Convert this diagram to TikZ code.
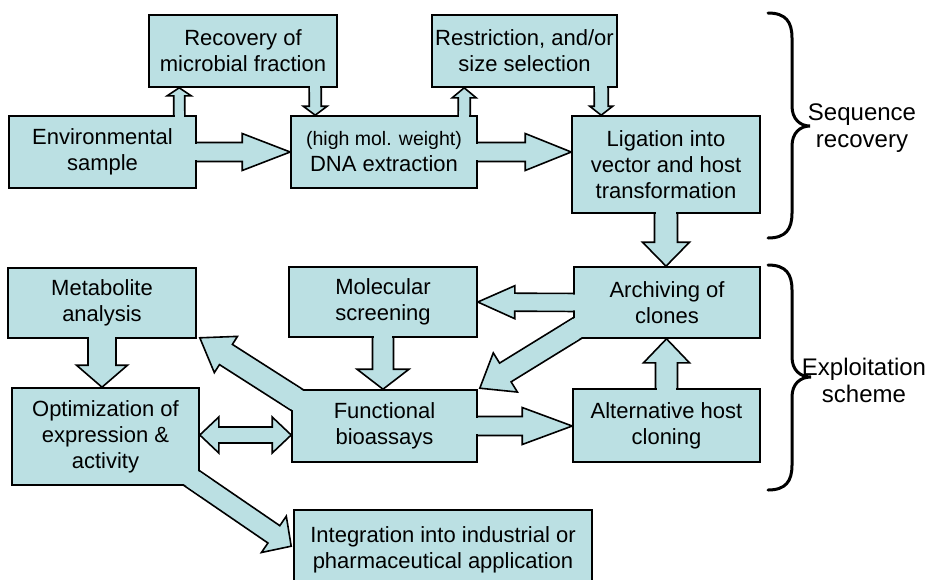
\documentclass[tikz,border=0pt]{standalone}
\usepackage{fontspec}
\setmainfont{Liberation Sans}
\usetikzlibrary{calc}
\pgfdeclarelayer{back}
\pgfdeclarelayer{front}
\pgfsetlayers{back,main,front}
\definecolor{boxfill}{RGB}{187,224,227}
\tikzset{
  box/.style 2 args={draw=black, line width=1.6pt, fill=boxfill, align=center,
    minimum width=#1pt, minimum height=#2pt, inner sep=0pt,
    font=\fontsize{22}{26}\selectfont},
  arrowbody/.style={draw=black, line width=1.6pt, fill=boxfill, line join=miter},
  bracestyle/.style={draw=black, line width=3pt, line cap=round},
  bracelabel/.style={align=center, font=\fontsize{24}{27}\selectfont}
}
% #1 start, #2 tip, #3 shaft half, #4 head half, #5 head length, #6 patch length
\newcommand\blockarrow[6]{%
  \path (#1) coordinate (ba-s) (#2) coordinate (ba-e);
  \path ($(ba-e)!#5pt!(ba-s)$) coordinate (ba-h);
  \path ($(ba-s)!#6pt!(ba-e)$) coordinate (ba-m);
  \pgfmathsetmacro\bapw{#3-1.1}%
  \begin{pgfonlayer}{back}
  \draw[arrowbody] ($(ba-s)!#3pt!90:(ba-e)$) -- ($(ba-h)!#3pt!90:(ba-e)$)
    -- ($(ba-h)!#4pt!90:(ba-e)$) -- (ba-e) -- ($(ba-h)!#4pt!-90:(ba-e)$)
    -- ($(ba-h)!#3pt!-90:(ba-e)$) -- ($(ba-s)!#3pt!-90:(ba-e)$) -- cycle;
  \end{pgfonlayer}
  \begin{pgfonlayer}{front}
  \fill[boxfill] ($(ba-s)!\bapw pt!90:(ba-e)$) -- ($(ba-m)!\bapw pt!90:(ba-e)$)
    -- ($(ba-m)!\bapw pt!-90:(ba-e)$) -- ($(ba-s)!\bapw pt!-90:(ba-e)$) -- cycle;
  \end{pgfonlayer}
}
% #1 left tip, #2 right tip, #3 shaft half, #4 head half, #5 head length
\newcommand\doublearrow[5]{%
  \path (#1) coordinate (da-l) (#2) coordinate (da-r);
  \path ($(da-l)!#5pt!(da-r)$) coordinate (da-hl) ($(da-r)!#5pt!(da-l)$) coordinate (da-hr);
  \draw[arrowbody] (da-l) -- ($(da-hl)!#4pt!90:(da-r)$) -- ($(da-hl)!#3pt!90:(da-r)$)
    -- ($(da-hr)!#3pt!-90:(da-l)$) -- ($(da-hr)!#4pt!-90:(da-l)$) -- (da-r)
    -- ($(da-hr)!#4pt!90:(da-l)$) -- ($(da-hr)!#3pt!90:(da-l)$)
    -- ($(da-hl)!#3pt!-90:(da-r)$) -- ($(da-hl)!#4pt!-90:(da-r)$) -- cycle;
}
\begin{document}
\begin{tikzpicture}[x=1pt,y=-1pt]
\useasboundingbox (0,0) rectangle (931,579);

% boxes
\node[box={188}{72}] (rec) at (243,51) {Recovery of\\microbial fraction};
\node[box={185}{72}] (res) at (524.5,51) {Restriction, and/or\\size selection};
\node[box={187}{72}] (env) at (102.5,152) {Environmental\\sample};
\node[box={186}{72}] (dna) at (384,152) {{\fontsize{19.5}{26}\selectfont (high mol. weight)}\\DNA extraction};
\node[box={188}{97}] (lig) at (666,164.5) {Ligation into\\vector and host\\transformation};
\node[box={186}{71}] (arc) at (667,302.5) {Archiving of\\clones};
\node[box={188}{70}] (mol) at (383,302) {Molecular\\screening};
\node[box={188}{70}] (met) at (102,303) {Metabolite\\analysis};
\node[box={187}{97}] (opt) at (105.5,436.5) {Optimization of\\expression \&\\activity};
\node[box={185}{72}] (fun) at (384.5,426) {Functional\\bioassays};
\node[box={187}{73}] (alt) at (666.5,425.5) {Alternative host\\cloning};
\node[box={298}{80}] (int) at (443,550) {Integration into industrial or\\pharmaceutical application};

% block arrows
\blockarrow{$(env.east)+(-6,0)$}{dna.west}{9.5}{18.5}{48}{14}
\blockarrow{$(env.north west)+(171,6)$}{$(rec.south west)+(31,0)$}{5.5}{12}{8}{10}
\blockarrow{$(rec.south west)+(167,-6)$}{$(dna.north west)+(25,0)$}{6}{12}{9}{10}
\blockarrow{$(dna.north west)+(174,6)$}{$(res.south west)+(33,0)$}{6}{12}{10}{10}
\blockarrow{$(res.south west)+(170,-6)$}{$(lig.north west)+(30,0)$}{7}{11.5}{9}{10}
\blockarrow{$(dna.east)+(-6,0)$}{lig.west |- dna.east}{9.5}{18.5}{46}{14}
\blockarrow{$(lig.south)+(0,-6)$}{lig.south |- arc.north}{11.5}{23.5}{24}{12}
\blockarrow{$(arc.west)+(6,0)$}{mol.east}{9}{16.5}{37}{14}
\blockarrow{$(arc.south west)+(16,-18)$}{$(fun.north east)+(2,-1)$}{11}{23}{30}{26}
\blockarrow{$(fun.north west)+(25,23)$}{$(met.south east)+(3,-1)$}{12}{21.5}{31}{34}
\blockarrow{$(met.south)+(0,-6)$}{met.south |- opt.north}{14}{25.5}{22}{12}
\blockarrow{$(mol.south)+(0,-6)$}{mol.south |- fun.north}{10.5}{26}{20}{12}
\blockarrow{$(fun.east)+(-6,0)$}{alt.west |- fun.east}{9.5}{18.5}{50}{14}
\blockarrow{$(alt.north)+(0,6)$}{alt.north |- arc.south}{11}{23}{24}{12}
\blockarrow{$(opt.south east)+(-18,-14.5)$}{$(int.north west)+(-2,37)$}{10.5}{22}{21}{30}
\coordinate (dl) at ($(opt.east)+(0,-1.5)$);
\doublearrow{dl}{fun.west |- dl}{8}{18}{19}

% braces
\draw[bracestyle] (768,13) .. controls (786,13) and (792,22) .. (792,38) -- (792,106)
  .. controls (792,119) and (800,126) .. (810,126)
  .. controls (800,126) and (792,133) .. (792,146) -- (792,213)
  .. controls (792,229) and (786,238) .. (768,238);
\draw[bracestyle] (768,265) .. controls (786,265) and (792,274) .. (792,290) -- (792,357)
  .. controls (792,370) and (800,377) .. (811,377)
  .. controls (800,377) and (792,384) .. (792,397) -- (792,465)
  .. controls (792,481) and (786,490) .. (768,490);
\node[bracelabel] (seqlab) at (862,128) {Sequence\\recovery};
\node[bracelabel] (explab) at (864,380) {Exploitation\\scheme};
\end{tikzpicture}
\end{document}
